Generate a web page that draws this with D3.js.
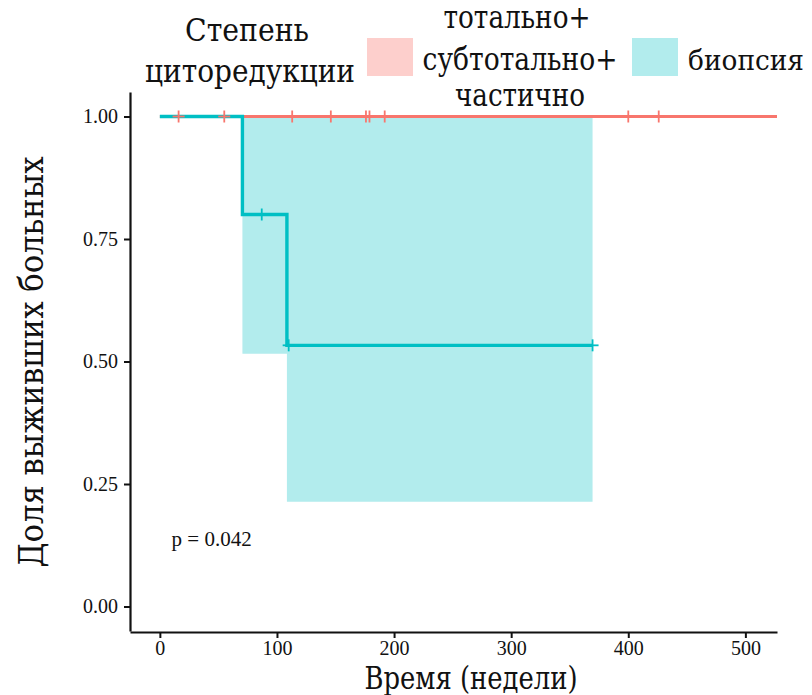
<!DOCTYPE html>
<html>
<head>
<meta charset="utf-8">
<script src="https://cdn.jsdelivr.net/npm/d3@7/dist/d3.min.js"></script>
<style>
  html, body { margin: 0; padding: 0; background: #fff; }
  svg text { font-family: "Liberation Serif", "DejaVu Serif", serif; fill: #111; }
  svg text.cyr { font-family: "DejaVu Serif", "Liberation Serif", serif; }
</style>
</head>
<body>
<svg id="chart" width="812" height="695"></svg>
<script>
// Kaplan–Meier survival by extent of cytoreduction
const groups = ["тотально+ субтотально+ частично", "биопсия"];
const colors = ["#F8766D", "#00BFC4"];

// Group 1: no events, survival stays at 1
const g1Times = [0, 527];
const g1Surv = [1, 1];
const g1Censor = [16, 55, 113, 146, 176, 179, 192, 400, 426];

// Group 2: biopsy
const g2Times = [0, 70.5, 108.5, 369.5];
const g2Surv = [1, 0.8, 0.533, 0.533];
const g2Lower = [1, 0.516, 0.214, 0.214];
const g2Upper = [1, 1, 1, 1];
const g2Censor = [87, 110, 369.5];

const xTicks = [0, 100, 200, 300, 400, 500];
const yTicks = [0, 0.25, 0.5, 0.75, 1];
const pLabel = "p = 0.042";

const svg = d3.select("#chart");
const x = d3.scaleLinear().domain([-25.5, 527]).range([130, 777]);
const y = d3.scaleLinear().domain([-0.05, 1.05]).range([631, 92]);

// step helper
function stepSurv(times, surv, t) {
  let s = surv[0];
  for (let i = 0; i < times.length; i++) if (times[i] <= t) s = surv[i];
  return s;
}

// confidence band for group 2
const band = [];
for (let i = 0; i < g2Times.length - 1; i++) {
  band.push({t: g2Times[i], lo: g2Lower[i], hi: g2Upper[i]});
  band.push({t: g2Times[i + 1], lo: g2Lower[i], hi: g2Upper[i]});
}
svg.append("path")
  .datum(band)
  .attr("fill", colors[1])
  .attr("fill-opacity", 0.3)
  .attr("d", d3.area().x(d => x(d.t)).y0(d => y(d.lo)).y1(d => y(d.hi)));

const line = d3.line().x(d => x(d[0])).y(d => y(d[1])).curve(d3.curveStepAfter);

svg.append("path")
  .datum(g1Times.map((t, i) => [t, g1Surv[i]]))
  .attr("fill", "none").attr("stroke", colors[0]).attr("stroke-width", 3.2)
  .attr("d", line);

svg.append("path")
  .datum(g2Times.map((t, i) => [t, g2Surv[i]]))
  .attr("fill", "none").attr("stroke", colors[1]).attr("stroke-width", 3.4)
  .attr("d", line);

function censorMarks(ts, times, surv, color) {
  const g = svg.append("g").attr("stroke", color).attr("stroke-width", 1.8);
  ts.forEach(t => {
    const cx = x(t), cy = y(stepSurv(times, surv, t));
    g.append("line").attr("x1", cx).attr("x2", cx).attr("y1", cy - 6).attr("y2", cy + 6);
    g.append("line").attr("x1", cx - 6).attr("x2", cx + 6).attr("y1", cy).attr("y2", cy);
  });
}
censorMarks(g1Censor, g1Times, g1Surv, colors[0]);
censorMarks(g2Censor, g2Times, g2Surv, colors[1]);

// axes
const xAxis = svg.append("g").attr("transform", "translate(0,632)")
  .call(d3.axisBottom(x).tickValues(xTicks).tickSize(6).tickPadding(3).tickSizeOuter(0));
const yAxis = svg.append("g").attr("transform", "translate(130,0)")
  .call(d3.axisLeft(y).tickValues(yTicks).tickFormat(d3.format(".2f")).tickSize(6).tickPadding(6).tickSizeOuter(0));
[xAxis, yAxis].forEach(a => {
  a.select(".domain").attr("stroke", "#111").attr("stroke-width", 2.2);
  a.selectAll(".tick line").attr("stroke", "#111").attr("stroke-width", 2);
  a.selectAll(".tick text").attr("font-size", 20).attr("fill", "#222");
});

// p-value
svg.append("text").attr("x", x(10)).attr("y", y(0.125) + 1).attr("font-size", 21).text(pLabel);

// axis titles
svg.append("text").attr("class", "cyr").attr("x", 471).attr("y", 689).attr("text-anchor", "middle")
  .attr("font-size", 31).attr("textLength", 213).attr("lengthAdjust", "spacingAndGlyphs")
  .text("Время (недели)");
svg.append("text").attr("class", "cyr").attr("transform", "translate(43,362) rotate(-90)").attr("text-anchor", "middle")
  .attr("font-size", 33).attr("textLength", 411).attr("lengthAdjust", "spacingAndGlyphs")
  .text("Доля выживших больных");

// legend
const leg = svg.append("g");
function ltext(t, cx, by, w, fs) {
  leg.append("text").attr("class", "cyr").attr("x", cx).attr("y", by).attr("text-anchor", "middle")
    .attr("font-size", fs || 31).attr("textLength", w).attr("lengthAdjust", "spacingAndGlyphs").text(t);
}
ltext("Степень", 247, 41, 124);
ltext("циторедукции", 250, 82, 210);
leg.append("rect").attr("x", 367).attr("y", 38).attr("width", 46).attr("height", 38)
  .attr("fill", colors[0]).attr("fill-opacity", 0.35);
ltext("тотально+", 517, 28, 147);
ltext("субтотально+", 520, 70, 195);
ltext("частично", 520, 106, 130);
leg.append("rect").attr("x", 632).attr("y", 38).attr("width", 46).attr("height", 38)
  .attr("fill", colors[1]).attr("fill-opacity", 0.3);
ltext("биопсия", 746, 70, 116, 28);
</script>
</body>
</html>
